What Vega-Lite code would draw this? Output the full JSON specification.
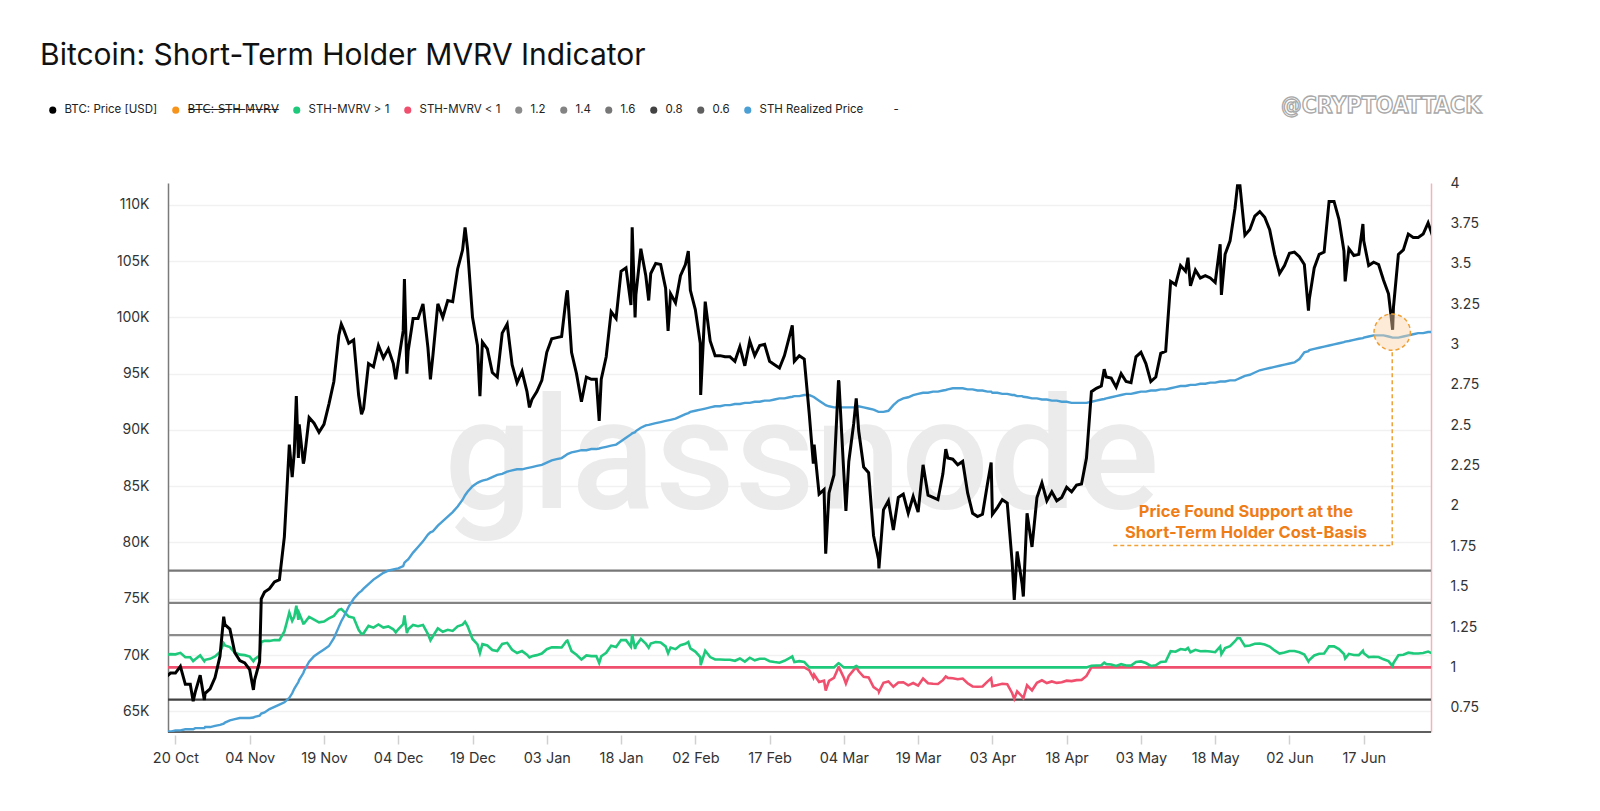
{
  "$schema": "https://vega.github.io/schema/vega-lite/v6.json",
  "width": 1263,
  "height": 549,
  "autosize": {"type": "none"},
  "padding": {"left": 168, "top": 183, "right": 169, "bottom": 79},
  "background": "#ffffff",
  "title": {
    "text": "Bitcoin: Short-Term Holder MVRV Indicator",
    "anchor": "start",
    "frame": "group",
    "font": "Inter",
    "fontSize": 30,
    "fontWeight": "normal",
    "color": "#111111",
    "dx": -128,
    "offset": 24
  },
  "config": {
    "font": "Inter",
    "view": {"stroke": null},
    "axis": {"labelFont": "Inter", "labelColor": "#333333", "labelFontSize": 14}
  },
  "datasets": {
    "btc": [
      {"date":"2024-10-18","price":68.0,"realized":63.2,"mvrv":1.076},
      {"date":"2024-10-19","price":68.4,"realized":63.2,"mvrv":1.082},
      {"date":"2024-10-20","price":68.4,"realized":63.3,"mvrv":1.081},
      {"date":"2024-10-21","price":69.0,"realized":63.3,"mvrv":1.090},
      {"date":"2024-10-22","price":67.4,"realized":63.4,"mvrv":1.063},
      {"date":"2024-10-23","price":67.4,"realized":63.4,"mvrv":1.063},
      {"date":"2024-10-23T14:00Z","price":65.9,"realized":63.4,"mvrv":1.039},
      {"date":"2024-10-24","price":66.7,"realized":63.5,"mvrv":1.050},
      {"date":"2024-10-25","price":68.2,"realized":63.5,"mvrv":1.074},
      {"date":"2024-10-25T20:00Z","price":66.0,"realized":63.5,"mvrv":1.039},
      {"date":"2024-10-26","price":66.6,"realized":63.6,"mvrv":1.047},
      {"date":"2024-10-27","price":67.0,"realized":63.6,"mvrv":1.053},
      {"date":"2024-10-28","price":68.0,"realized":63.7,"mvrv":1.068},
      {"date":"2024-10-29","price":69.9,"realized":63.8,"mvrv":1.096},
      {"date":"2024-10-29T18:00Z","price":73.4,"realized":63.9,"mvrv":1.149},
      {"date":"2024-10-30","price":72.7,"realized":64.0,"mvrv":1.136},
      {"date":"2024-10-31","price":72.3,"realized":64.2,"mvrv":1.126},
      {"date":"2024-11-01","price":70.2,"realized":64.3,"mvrv":1.092},
      {"date":"2024-11-02","price":69.5,"realized":64.4,"mvrv":1.079},
      {"date":"2024-11-03","price":69.3,"realized":64.4,"mvrv":1.076},
      {"date":"2024-11-04","price":68.7,"realized":64.4,"mvrv":1.067},
      {"date":"2024-11-04T18:00Z","price":66.9,"realized":64.45,"mvrv":1.038},
      {"date":"2024-11-05","price":67.8,"realized":64.5,"mvrv":1.051},
      {"date":"2024-11-06","price":69.4,"realized":64.6,"mvrv":1.074},
      {"date":"2024-11-06T08:00Z","price":75.0,"realized":64.8,"mvrv":1.157},
      {"date":"2024-11-07","price":75.6,"realized":64.9,"mvrv":1.165},
      {"date":"2024-11-08","price":75.9,"realized":65.2,"mvrv":1.164},
      {"date":"2024-11-09","price":76.5,"realized":65.4,"mvrv":1.170},
      {"date":"2024-11-10","price":76.7,"realized":65.6,"mvrv":1.169},
      {"date":"2024-11-11","price":80.5,"realized":65.8,"mvrv":1.223},
      {"date":"2024-11-11T12:00Z","price":84.5,"realized":66.0,"mvrv":1.280},
      {"date":"2024-11-12","price":88.7,"realized":66.2,"mvrv":1.340},
      {"date":"2024-11-12T14:00Z","price":85.8,"realized":66.6,"mvrv":1.288},
      {"date":"2024-11-13","price":88.0,"realized":67.0,"mvrv":1.313},
      {"date":"2024-11-13T10:00Z","price":93.0,"realized":67.3,"mvrv":1.382},
      {"date":"2024-11-13T20:00Z","price":87.5,"realized":67.6,"mvrv":1.294},
      {"date":"2024-11-14","price":90.5,"realized":67.8,"mvrv":1.335},
      {"date":"2024-11-14T20:00Z","price":87.0,"realized":68.4,"mvrv":1.272},
      {"date":"2024-11-15","price":87.3,"realized":68.6,"mvrv":1.273},
      {"date":"2024-11-16","price":91.1,"realized":69.4,"mvrv":1.313},
      {"date":"2024-11-17","price":90.6,"realized":69.9,"mvrv":1.296},
      {"date":"2024-11-18","price":89.8,"realized":70.2,"mvrv":1.279},
      {"date":"2024-11-19","price":90.5,"realized":70.5,"mvrv":1.284},
      {"date":"2024-11-20","price":92.3,"realized":70.8,"mvrv":1.304},
      {"date":"2024-11-21","price":94.3,"realized":71.5,"mvrv":1.319},
      {"date":"2024-11-22","price":98.4,"realized":72.5,"mvrv":1.357},
      {"date":"2024-11-22T12:00Z","price":99.4,"realized":73.0,"mvrv":1.362},
      {"date":"2024-11-23","price":98.9,"realized":73.4,"mvrv":1.347},
      {"date":"2024-11-24","price":97.7,"realized":74.3,"mvrv":1.315},
      {"date":"2024-11-25","price":98.0,"realized":75.0,"mvrv":1.307},
      {"date":"2024-11-26","price":93.1,"realized":75.5,"mvrv":1.233},
      {"date":"2024-11-26T14:00Z","price":91.4,"realized":75.7,"mvrv":1.207},
      {"date":"2024-11-27","price":91.9,"realized":75.9,"mvrv":1.211},
      {"date":"2024-11-28","price":95.9,"realized":76.3,"mvrv":1.257},
      {"date":"2024-11-29","price":95.6,"realized":76.7,"mvrv":1.246},
      {"date":"2024-11-30","price":97.5,"realized":77.0,"mvrv":1.266},
      {"date":"2024-12-01","price":96.4,"realized":77.3,"mvrv":1.247},
      {"date":"2024-12-02","price":97.2,"realized":77.5,"mvrv":1.254},
      {"date":"2024-12-03","price":95.9,"realized":77.6,"mvrv":1.236},
      {"date":"2024-12-03T12:00Z","price":94.5,"realized":77.65,"mvrv":1.217},
      {"date":"2024-12-04","price":96.0,"realized":77.7,"mvrv":1.236},
      {"date":"2024-12-05","price":98.8,"realized":77.9,"mvrv":1.268},
      {"date":"2024-12-05T06:00Z","price":103.4,"realized":78.2,"mvrv":1.322},
      {"date":"2024-12-05T18:00Z","price":95.0,"realized":78.4,"mvrv":1.212},
      {"date":"2024-12-06","price":97.0,"realized":78.5,"mvrv":1.236},
      {"date":"2024-12-07","price":99.9,"realized":79.1,"mvrv":1.263},
      {"date":"2024-12-08","price":99.9,"realized":79.6,"mvrv":1.255},
      {"date":"2024-12-09","price":101.2,"realized":80.1,"mvrv":1.263},
      {"date":"2024-12-10","price":97.3,"realized":80.7,"mvrv":1.206},
      {"date":"2024-12-10T12:00Z","price":94.5,"realized":80.9,"mvrv":1.168},
      {"date":"2024-12-11","price":96.6,"realized":81.0,"mvrv":1.193},
      {"date":"2024-12-12","price":101.2,"realized":81.5,"mvrv":1.242},
      {"date":"2024-12-13","price":100.0,"realized":81.9,"mvrv":1.221},
      {"date":"2024-12-14","price":101.5,"realized":82.3,"mvrv":1.233},
      {"date":"2024-12-15","price":101.4,"realized":82.7,"mvrv":1.226},
      {"date":"2024-12-16","price":104.3,"realized":83.2,"mvrv":1.254},
      {"date":"2024-12-17","price":106.0,"realized":83.8,"mvrv":1.265},
      {"date":"2024-12-17T12:00Z","price":108.0,"realized":84.2,"mvrv":1.283},
      {"date":"2024-12-18","price":106.1,"realized":84.5,"mvrv":1.256},
      {"date":"2024-12-19","price":100.0,"realized":85.0,"mvrv":1.176},
      {"date":"2024-12-20","price":97.5,"realized":85.3,"mvrv":1.143},
      {"date":"2024-12-20T12:00Z","price":93.0,"realized":85.4,"mvrv":1.089},
      {"date":"2024-12-21","price":97.8,"realized":85.5,"mvrv":1.144},
      {"date":"2024-12-22","price":97.2,"realized":85.6,"mvrv":1.136},
      {"date":"2024-12-23","price":95.1,"realized":85.8,"mvrv":1.108},
      {"date":"2024-12-24","price":94.7,"realized":86.0,"mvrv":1.101},
      {"date":"2024-12-25","price":98.6,"realized":86.1,"mvrv":1.145},
      {"date":"2024-12-26","price":99.4,"realized":86.3,"mvrv":1.152},
      {"date":"2024-12-27","price":95.8,"realized":86.4,"mvrv":1.109},
      {"date":"2024-12-28","price":94.2,"realized":86.5,"mvrv":1.089},
      {"date":"2024-12-29","price":95.2,"realized":86.5,"mvrv":1.101},
      {"date":"2024-12-30","price":93.4,"realized":86.6,"mvrv":1.079},
      {"date":"2024-12-30T12:00Z","price":92.0,"realized":86.65,"mvrv":1.062},
      {"date":"2024-12-31","price":92.7,"realized":86.7,"mvrv":1.069},
      {"date":"2025-01-01","price":93.4,"realized":86.8,"mvrv":1.076},
      {"date":"2025-01-02","price":94.4,"realized":86.9,"mvrv":1.086},
      {"date":"2025-01-03","price":96.9,"realized":87.1,"mvrv":1.113},
      {"date":"2025-01-04","price":98.1,"realized":87.3,"mvrv":1.124},
      {"date":"2025-01-05","price":98.2,"realized":87.4,"mvrv":1.124},
      {"date":"2025-01-06","price":98.3,"realized":87.5,"mvrv":1.123},
      {"date":"2025-01-07","price":102.1,"realized":87.8,"mvrv":1.163},
      {"date":"2025-01-07T04:00Z","price":102.4,"realized":87.85,"mvrv":1.166},
      {"date":"2025-01-08","price":96.9,"realized":88.0,"mvrv":1.101},
      {"date":"2025-01-09","price":95.0,"realized":88.1,"mvrv":1.078},
      {"date":"2025-01-10","price":92.5,"realized":88.2,"mvrv":1.049},
      {"date":"2025-01-11","price":94.7,"realized":88.2,"mvrv":1.074},
      {"date":"2025-01-12","price":94.5,"realized":88.3,"mvrv":1.070},
      {"date":"2025-01-13","price":94.5,"realized":88.3,"mvrv":1.070},
      {"date":"2025-01-13T14:00Z","price":90.8,"realized":88.35,"mvrv":1.028},
      {"date":"2025-01-14","price":94.5,"realized":88.4,"mvrv":1.069},
      {"date":"2025-01-15","price":96.5,"realized":88.5,"mvrv":1.090},
      {"date":"2025-01-16","price":100.5,"realized":88.6,"mvrv":1.134},
      {"date":"2025-01-17","price":99.9,"realized":88.7,"mvrv":1.126},
      {"date":"2025-01-18","price":104.1,"realized":89.0,"mvrv":1.170},
      {"date":"2025-01-19","price":104.4,"realized":89.3,"mvrv":1.169},
      {"date":"2025-01-20","price":101.1,"realized":89.6,"mvrv":1.128},
      {"date":"2025-01-20T06:00Z","price":108.0,"realized":89.7,"mvrv":1.204},
      {"date":"2025-01-20T20:00Z","price":100.0,"realized":89.8,"mvrv":1.114},
      {"date":"2025-01-21","price":102.0,"realized":89.9,"mvrv":1.135},
      {"date":"2025-01-22","price":106.1,"realized":90.2,"mvrv":1.176},
      {"date":"2025-01-23","price":103.7,"realized":90.4,"mvrv":1.147},
      {"date":"2025-01-23T14:00Z","price":101.5,"realized":90.45,"mvrv":1.122},
      {"date":"2025-01-24","price":103.9,"realized":90.5,"mvrv":1.148},
      {"date":"2025-01-25","price":104.8,"realized":90.6,"mvrv":1.157},
      {"date":"2025-01-26","price":104.7,"realized":90.7,"mvrv":1.154},
      {"date":"2025-01-27","price":102.6,"realized":90.8,"mvrv":1.130},
      {"date":"2025-01-27T12:00Z","price":98.8,"realized":90.85,"mvrv":1.088},
      {"date":"2025-01-28","price":102.1,"realized":90.9,"mvrv":1.123},
      {"date":"2025-01-29","price":101.3,"realized":91.0,"mvrv":1.113},
      {"date":"2025-01-30","price":103.7,"realized":91.2,"mvrv":1.137},
      {"date":"2025-01-31","price":104.7,"realized":91.4,"mvrv":1.146},
      {"date":"2025-01-31T14:00Z","price":105.9,"realized":91.5,"mvrv":1.157},
      {"date":"2025-02-01","price":102.4,"realized":91.6,"mvrv":1.118},
      {"date":"2025-02-02","price":100.7,"realized":91.7,"mvrv":1.098},
      {"date":"2025-02-03","price":97.7,"realized":91.8,"mvrv":1.064},
      {"date":"2025-02-03T02:00Z","price":93.1,"realized":91.8,"mvrv":1.014},
      {"date":"2025-02-04","price":101.4,"realized":91.9,"mvrv":1.103},
      {"date":"2025-02-05","price":97.9,"realized":92.0,"mvrv":1.064},
      {"date":"2025-02-06","price":96.6,"realized":92.1,"mvrv":1.049},
      {"date":"2025-02-07","price":96.6,"realized":92.1,"mvrv":1.049},
      {"date":"2025-02-08","price":96.5,"realized":92.2,"mvrv":1.047},
      {"date":"2025-02-09","price":96.5,"realized":92.2,"mvrv":1.047},
      {"date":"2025-02-10","price":96.1,"realized":92.3,"mvrv":1.041},
      {"date":"2025-02-11","price":97.4,"realized":92.3,"mvrv":1.055},
      {"date":"2025-02-12","price":95.7,"realized":92.4,"mvrv":1.036},
      {"date":"2025-02-13","price":97.9,"realized":92.4,"mvrv":1.060},
      {"date":"2025-02-14","price":96.6,"realized":92.5,"mvrv":1.044},
      {"date":"2025-02-15","price":97.5,"realized":92.5,"mvrv":1.054},
      {"date":"2025-02-16","price":97.6,"realized":92.6,"mvrv":1.054},
      {"date":"2025-02-17","price":96.1,"realized":92.6,"mvrv":1.038},
      {"date":"2025-02-18","price":95.8,"realized":92.7,"mvrv":1.033},
      {"date":"2025-02-19","price":95.5,"realized":92.8,"mvrv":1.029},
      {"date":"2025-02-20","price":96.6,"realized":92.8,"mvrv":1.041},
      {"date":"2025-02-21","price":98.3,"realized":92.9,"mvrv":1.058},
      {"date":"2025-02-21T14:00Z","price":99.3,"realized":92.95,"mvrv":1.068},
      {"date":"2025-02-22","price":96.1,"realized":93.0,"mvrv":1.033},
      {"date":"2025-02-23","price":96.6,"realized":93.0,"mvrv":1.039},
      {"date":"2025-02-24","price":96.3,"realized":93.1,"mvrv":1.034},
      {"date":"2025-02-25","price":91.5,"realized":93.1,"mvrv":0.983},
      {"date":"2025-02-25T20:00Z","price":87.0,"realized":92.95,"mvrv":0.936},
      {"date":"2025-02-26","price":88.7,"realized":92.9,"mvrv":0.955},
      {"date":"2025-02-27","price":84.3,"realized":92.6,"mvrv":0.910},
      {"date":"2025-02-28","price":84.7,"realized":92.3,"mvrv":0.918},
      {"date":"2025-02-28T08:00Z","price":79.0,"realized":92.2,"mvrv":0.857},
      {"date":"2025-03-01","price":84.4,"realized":92.1,"mvrv":0.916},
      {"date":"2025-03-02","price":86.0,"realized":92.0,"mvrv":0.935},
      {"date":"2025-03-02T22:00Z","price":94.4,"realized":92.0,"mvrv":1.026},
      {"date":"2025-03-03","price":94.3,"realized":92.0,"mvrv":1.025},
      {"date":"2025-03-04","price":86.1,"realized":92.0,"mvrv":0.936},
      {"date":"2025-03-04T10:00Z","price":82.8,"realized":92.0,"mvrv":0.900},
      {"date":"2025-03-05","price":87.2,"realized":92.0,"mvrv":0.948},
      {"date":"2025-03-06","price":90.6,"realized":92.0,"mvrv":0.985},
      {"date":"2025-03-06T12:00Z","price":92.8,"realized":92.0,"mvrv":1.009},
      {"date":"2025-03-07","price":89.9,"realized":92.1,"mvrv":0.976},
      {"date":"2025-03-08","price":86.7,"realized":92.0,"mvrv":0.942},
      {"date":"2025-03-09","price":86.2,"realized":91.9,"mvrv":0.938},
      {"date":"2025-03-10","price":80.6,"realized":91.8,"mvrv":0.878},
      {"date":"2025-03-11","price":78.5,"realized":91.6,"mvrv":0.857},
      {"date":"2025-03-11T02:00Z","price":77.7,"realized":91.6,"mvrv":0.848},
      {"date":"2025-03-12","price":82.9,"realized":91.6,"mvrv":0.905},
      {"date":"2025-03-13","price":83.7,"realized":91.7,"mvrv":0.913},
      {"date":"2025-03-14","price":81.1,"realized":92.2,"mvrv":0.880},
      {"date":"2025-03-15","price":84.0,"realized":92.6,"mvrv":0.907},
      {"date":"2025-03-16","price":84.3,"realized":92.8,"mvrv":0.908},
      {"date":"2025-03-17","price":82.6,"realized":92.9,"mvrv":0.889},
      {"date":"2025-03-18","price":84.1,"realized":93.1,"mvrv":0.903},
      {"date":"2025-03-19","price":82.7,"realized":93.2,"mvrv":0.887},
      {"date":"2025-03-20","price":86.9,"realized":93.3,"mvrv":0.931},
      {"date":"2025-03-21","price":84.2,"realized":93.3,"mvrv":0.902},
      {"date":"2025-03-22","price":84.0,"realized":93.4,"mvrv":0.899},
      {"date":"2025-03-23","price":83.8,"realized":93.4,"mvrv":0.897},
      {"date":"2025-03-24","price":86.1,"realized":93.5,"mvrv":0.921},
      {"date":"2025-03-24T14:00Z","price":88.3,"realized":93.55,"mvrv":0.944},
      {"date":"2025-03-25","price":87.5,"realized":93.6,"mvrv":0.935},
      {"date":"2025-03-26","price":87.4,"realized":93.7,"mvrv":0.933},
      {"date":"2025-03-27","price":86.9,"realized":93.7,"mvrv":0.927},
      {"date":"2025-03-28","price":87.2,"realized":93.7,"mvrv":0.931},
      {"date":"2025-03-29","price":84.4,"realized":93.6,"mvrv":0.902},
      {"date":"2025-03-30","price":82.6,"realized":93.6,"mvrv":0.882},
      {"date":"2025-03-31","price":82.3,"realized":93.5,"mvrv":0.880},
      {"date":"2025-04-01","price":82.5,"realized":93.5,"mvrv":0.882},
      {"date":"2025-04-02","price":85.2,"realized":93.4,"mvrv":0.912},
      {"date":"2025-04-02T18:00Z","price":87.1,"realized":93.4,"mvrv":0.933},
      {"date":"2025-04-03","price":82.5,"realized":93.3,"mvrv":0.884},
      {"date":"2025-04-04","price":83.1,"realized":93.3,"mvrv":0.891},
      {"date":"2025-04-05","price":83.8,"realized":93.2,"mvrv":0.899},
      {"date":"2025-04-06","price":83.5,"realized":93.2,"mvrv":0.896},
      {"date":"2025-04-07","price":78.2,"realized":93.1,"mvrv":0.840},
      {"date":"2025-04-07T10:00Z","price":74.9,"realized":93.1,"mvrv":0.805},
      {"date":"2025-04-08","price":79.2,"realized":93.0,"mvrv":0.852},
      {"date":"2025-04-09","price":76.3,"realized":93.0,"mvrv":0.820},
      {"date":"2025-04-09T06:00Z","price":75.2,"realized":92.95,"mvrv":0.809},
      {"date":"2025-04-10","price":82.6,"realized":92.9,"mvrv":0.889},
      {"date":"2025-04-11","price":79.6,"realized":92.8,"mvrv":0.858},
      {"date":"2025-04-12","price":84.0,"realized":92.8,"mvrv":0.905},
      {"date":"2025-04-13","price":85.3,"realized":92.7,"mvrv":0.920},
      {"date":"2025-04-14","price":83.7,"realized":92.7,"mvrv":0.903},
      {"date":"2025-04-15","price":84.5,"realized":92.6,"mvrv":0.913},
      {"date":"2025-04-16","price":83.7,"realized":92.6,"mvrv":0.904},
      {"date":"2025-04-17","price":84.0,"realized":92.5,"mvrv":0.908},
      {"date":"2025-04-18","price":84.9,"realized":92.5,"mvrv":0.918},
      {"date":"2025-04-19","price":84.5,"realized":92.4,"mvrv":0.915},
      {"date":"2025-04-20","price":85.1,"realized":92.4,"mvrv":0.921},
      {"date":"2025-04-21","price":85.2,"realized":92.4,"mvrv":0.922},
      {"date":"2025-04-22","price":87.5,"realized":92.4,"mvrv":0.947},
      {"date":"2025-04-23","price":93.4,"realized":92.5,"mvrv":1.010},
      {"date":"2025-04-24","price":93.7,"realized":92.6,"mvrv":1.012},
      {"date":"2025-04-25","price":93.9,"realized":92.7,"mvrv":1.013},
      {"date":"2025-04-25T14:00Z","price":95.4,"realized":92.75,"mvrv":1.029},
      {"date":"2025-04-26","price":94.7,"realized":92.8,"mvrv":1.020},
      {"date":"2025-04-27","price":94.6,"realized":92.9,"mvrv":1.018},
      {"date":"2025-04-28","price":93.8,"realized":93.0,"mvrv":1.009},
      {"date":"2025-04-29","price":95.0,"realized":93.1,"mvrv":1.020},
      {"date":"2025-04-30","price":94.3,"realized":93.2,"mvrv":1.012},
      {"date":"2025-05-01","price":94.2,"realized":93.2,"mvrv":1.011},
      {"date":"2025-05-02","price":96.5,"realized":93.3,"mvrv":1.034},
      {"date":"2025-05-03","price":96.9,"realized":93.4,"mvrv":1.037},
      {"date":"2025-05-04","price":95.9,"realized":93.4,"mvrv":1.027},
      {"date":"2025-05-05","price":94.3,"realized":93.5,"mvrv":1.009},
      {"date":"2025-05-06","price":94.7,"realized":93.5,"mvrv":1.013},
      {"date":"2025-05-07","price":96.8,"realized":93.6,"mvrv":1.034},
      {"date":"2025-05-08","price":97.0,"realized":93.6,"mvrv":1.036},
      {"date":"2025-05-09","price":103.2,"realized":93.7,"mvrv":1.101},
      {"date":"2025-05-10","price":102.9,"realized":93.8,"mvrv":1.097},
      {"date":"2025-05-11","price":104.6,"realized":93.9,"mvrv":1.114},
      {"date":"2025-05-12","price":104.1,"realized":93.9,"mvrv":1.109},
      {"date":"2025-05-12T12:00Z","price":105.3,"realized":93.95,"mvrv":1.121},
      {"date":"2025-05-13","price":102.8,"realized":94.0,"mvrv":1.094},
      {"date":"2025-05-14","price":104.2,"realized":94.0,"mvrv":1.109},
      {"date":"2025-05-15","price":103.5,"realized":94.1,"mvrv":1.100},
      {"date":"2025-05-16","price":103.7,"realized":94.1,"mvrv":1.102},
      {"date":"2025-05-17","price":103.5,"realized":94.2,"mvrv":1.099},
      {"date":"2025-05-18","price":103.1,"realized":94.2,"mvrv":1.094},
      {"date":"2025-05-19","price":106.5,"realized":94.3,"mvrv":1.129},
      {"date":"2025-05-19T06:00Z","price":102.0,"realized":94.3,"mvrv":1.082},
      {"date":"2025-05-20","price":105.6,"realized":94.3,"mvrv":1.120},
      {"date":"2025-05-21","price":106.8,"realized":94.4,"mvrv":1.131},
      {"date":"2025-05-22","price":109.7,"realized":94.4,"mvrv":1.162},
      {"date":"2025-05-22T12:00Z","price":111.7,"realized":94.5,"mvrv":1.182},
      {"date":"2025-05-23","price":111.7,"realized":94.6,"mvrv":1.181},
      {"date":"2025-05-24","price":107.3,"realized":94.8,"mvrv":1.132},
      {"date":"2025-05-25","price":107.8,"realized":94.9,"mvrv":1.136},
      {"date":"2025-05-26","price":109.0,"realized":95.1,"mvrv":1.146},
      {"date":"2025-05-27","price":109.4,"realized":95.3,"mvrv":1.148},
      {"date":"2025-05-28","price":108.9,"realized":95.4,"mvrv":1.142},
      {"date":"2025-05-29","price":107.8,"realized":95.5,"mvrv":1.129},
      {"date":"2025-05-30","price":105.6,"realized":95.6,"mvrv":1.105},
      {"date":"2025-05-31","price":103.9,"realized":95.7,"mvrv":1.086},
      {"date":"2025-06-01","price":104.6,"realized":95.8,"mvrv":1.092},
      {"date":"2025-06-02","price":105.7,"realized":95.9,"mvrv":1.102},
      {"date":"2025-06-03","price":105.8,"realized":96.0,"mvrv":1.102},
      {"date":"2025-06-04","price":105.4,"realized":96.3,"mvrv":1.094},
      {"date":"2025-06-05","price":104.7,"realized":96.9,"mvrv":1.080},
      {"date":"2025-06-05T20:00Z","price":100.6,"realized":97.0,"mvrv":1.037},
      {"date":"2025-06-06","price":101.6,"realized":97.1,"mvrv":1.046},
      {"date":"2025-06-07","price":104.4,"realized":97.2,"mvrv":1.074},
      {"date":"2025-06-08","price":105.6,"realized":97.3,"mvrv":1.085},
      {"date":"2025-06-09","price":105.8,"realized":97.4,"mvrv":1.086},
      {"date":"2025-06-10","price":110.3,"realized":97.5,"mvrv":1.131},
      {"date":"2025-06-11","price":110.3,"realized":97.6,"mvrv":1.130},
      {"date":"2025-06-12","price":108.7,"realized":97.7,"mvrv":1.113},
      {"date":"2025-06-13","price":105.9,"realized":97.8,"mvrv":1.083},
      {"date":"2025-06-13T06:00Z","price":103.2,"realized":97.85,"mvrv":1.055},
      {"date":"2025-06-14","price":106.1,"realized":97.9,"mvrv":1.084},
      {"date":"2025-06-15","price":105.5,"realized":98.0,"mvrv":1.077},
      {"date":"2025-06-16","price":105.6,"realized":98.1,"mvrv":1.076},
      {"date":"2025-06-16T20:00Z","price":108.3,"realized":98.15,"mvrv":1.103},
      {"date":"2025-06-17","price":106.8,"realized":98.2,"mvrv":1.088},
      {"date":"2025-06-18","price":104.6,"realized":98.3,"mvrv":1.064},
      {"date":"2025-06-19","price":104.9,"realized":98.4,"mvrv":1.066},
      {"date":"2025-06-20","price":104.7,"realized":98.4,"mvrv":1.064},
      {"date":"2025-06-21","price":103.3,"realized":98.4,"mvrv":1.050},
      {"date":"2025-06-22","price":102.1,"realized":98.3,"mvrv":1.039},
      {"date":"2025-06-22T20:00Z","price":98.9,"realized":98.2,"mvrv":1.007},
      {"date":"2025-06-23","price":100.9,"realized":98.2,"mvrv":1.027},
      {"date":"2025-06-24","price":105.6,"realized":98.2,"mvrv":1.075},
      {"date":"2025-06-25","price":106.0,"realized":98.3,"mvrv":1.078},
      {"date":"2025-06-26","price":107.4,"realized":98.4,"mvrv":1.091},
      {"date":"2025-06-27","price":107.1,"realized":98.5,"mvrv":1.087},
      {"date":"2025-06-28","price":107.1,"realized":98.6,"mvrv":1.086},
      {"date":"2025-06-29","price":107.4,"realized":98.6,"mvrv":1.089},
      {"date":"2025-06-30","price":108.4,"realized":98.7,"mvrv":1.098},
      {"date":"2025-07-01","price":107.1,"realized":98.7,"mvrv":1.085}
    ],
    "levels": [
      {"level": "1.2", "value": 1.2},
      {"level": "1.4", "value": 1.4},
      {"level": "1.6", "value": 1.6},
      {"level": "0.8", "value": 0.8},
      {"level": "0.6", "value": 0.6}
    ]
  },
  "resolve": {"scale": {"y": "independent"}},
  "layer": [
    {
      "data": {"values": [{"label": "glassnode"}]},
      "mark": {"type": "text", "font": "Roboto", "fontWeight": 500, "fontSize": 155, "color": "#ebebeb", "align": "center", "baseline": "alphabetic"},
      "encoding": {
        "text": {"field": "label"},
        "x": {
          "datum": {"year": 2025, "month": 2, "date": 23, "hours": 12, "utc": true},
          "type": "temporal",
          "scale": {"type": "utc", "domain": [{"year": 2024, "month": 10, "date": 18, "hours": 12, "utc": true}, {"year": 2025, "month": 6, "date": 30, "hours": 14, "utc": true}]}
        },
        "y": {
          "datum": 83.03,
          "type": "quantitative",
          "scale": {"domain": [63.16, 111.94], "nice": false, "zero": false},
          "axis": {
            "title": null,
            "orient": "left",
            "values": [65, 70, 75, 80, 85, 90, 95, 100, 105, 110],
            "labelExpr": "datum.value + 'K'",
            "grid": true,
            "gridColor": "#f1f1f1",
            "gridWidth": 1.5,
            "domain": true,
            "domainColor": "#7a7a7a",
            "domainWidth": 1.5,
            "ticks": false,
            "tickSize": 0,
            "labelPadding": 19,
            "labelFontSize": 14,
            "labelColor": "#333333"
          }
        }
      }
    },
    {
      "data": {"name": "levels"},
      "mark": {"type": "rule", "strokeWidth": 2.2},
      "encoding": {
        "y": {
          "field": "value",
          "type": "quantitative",
          "scale": {"domain": [0.6, 4], "nice": false, "zero": false},
          "axis": {
            "title": null,
            "orient": "right",
            "values": [0.75, 1, 1.25, 1.5, 1.75, 2, 2.25, 2.5, 2.75, 3, 3.25, 3.5, 3.75, 4],
            "labelExpr": "'' + datum.value",
            "grid": false,
            "domain": true,
            "domainColor": "#f2b3bb",
            "domainWidth": 1.5,
            "ticks": false,
            "tickSize": 0,
            "labelPadding": 19,
            "labelFontSize": 14,
            "labelColor": "#333333"
          }
        },
        "color": {
          "field": "level",
          "type": "nominal",
          "scale": {
            "domain": ["BTC: Price [USD]", "B\u0336T\u0336C\u0336:\u0336 \u0336S\u0336T\u0336H\u0336-\u0336M\u0336V\u0336R\u0336V\u0336", "STH-MVRV > 1", "STH-MVRV < 1", "1.2", "1.4", "1.6", "0.8", "0.6", "STH Realized Price", "-"],
            "range": ["#000000", "#f7931a", "#1ec97b", "#f0506e", "#8c8c8c", "#838383", "#777777", "#424242", "#5f5f5f", "#4a9fd4", "#ffffff"]
          },
          "legend": {
            "title": null,
            "orient": "none",
            "direction": "horizontal",
            "columns": 11,
            "legendX": -121,
            "legendY": -79,
            "symbolType": "circle",
            "symbolSize": 50,
            "symbolStrokeWidth": 0,
            "labelFont": "Inter, DejaVu Sans",
            "labelFontSize": 11.5,
            "labelColor": "#222222",
            "labelOffset": 6,
            "columnPadding": 12,
            "encode": {
              "symbols": {
                "update": {
                  "fill": {"scale": "color", "field": "value"},
                  "stroke": {"value": "transparent"},
                  "opacity": {"value": 1}
                }
              }
            }
          }
        }
      }
    },
    {
      "data": {"name": "btc"},
      "mark": {"type": "line", "strokeWidth": 2.6, "clip": true},
      "encoding": {
        "x": {
          "field": "date",
          "type": "temporal",
          "scale": {"type": "utc", "domain": [{"year": 2024, "month": 10, "date": 18, "hours": 12, "utc": true}, {"year": 2025, "month": 6, "date": 30, "hours": 14, "utc": true}]},
          "axis": {
            "title": null,
            "values": [
              {"year": 2024, "month": 10, "date": 20, "utc": true},
              {"year": 2024, "month": 11, "date": 4, "utc": true},
              {"year": 2024, "month": 11, "date": 19, "utc": true},
              {"year": 2024, "month": 12, "date": 4, "utc": true},
              {"year": 2024, "month": 12, "date": 19, "utc": true},
              {"year": 2025, "month": 1, "date": 3, "utc": true},
              {"year": 2025, "month": 1, "date": 18, "utc": true},
              {"year": 2025, "month": 2, "date": 2, "utc": true},
              {"year": 2025, "month": 2, "date": 17, "utc": true},
              {"year": 2025, "month": 3, "date": 4, "utc": true},
              {"year": 2025, "month": 3, "date": 19, "utc": true},
              {"year": 2025, "month": 4, "date": 3, "utc": true},
              {"year": 2025, "month": 4, "date": 18, "utc": true},
              {"year": 2025, "month": 5, "date": 3, "utc": true},
              {"year": 2025, "month": 5, "date": 18, "utc": true},
              {"year": 2025, "month": 6, "date": 2, "utc": true},
              {"year": 2025, "month": 6, "date": 17, "utc": true}
            ],
            "labelExpr": "utcFormat(datum.value, '%d %b')",
            "domain": false,
            "grid": false,
            "offset": 3,
            "tickSize": 9,
            "tickColor": "#d0d0d0",
            "tickWidth": 1.5,
            "labelPadding": 7,
            "labelFontSize": 14.5,
            "labelColor": "#333333"
          }
        },
        "y": {"field": "mvrv", "type": "quantitative", "scale": {"domain": [0.6, 1], "range": [549, 484.4], "clamp": true, "nice": false, "zero": false}, "axis": null},
        "color": {"datum": "STH-MVRV < 1", "legend": null}
      }
    },
    {
      "data": {"name": "btc"},
      "mark": {"type": "line", "strokeWidth": 2.6, "clip": true},
      "encoding": {
        "x": {"field": "date", "type": "temporal", "scale": {"type": "utc", "domain": [{"year": 2024, "month": 10, "date": 18, "hours": 12, "utc": true}, {"year": 2025, "month": 6, "date": 30, "hours": 14, "utc": true}]}},
        "y": {"field": "mvrv", "type": "quantitative", "scale": {"domain": [1, 4], "range": [484.4, 0], "clamp": true, "nice": false, "zero": false}, "axis": null},
        "color": {"datum": "STH-MVRV > 1", "legend": null}
      }
    },
    {
      "layer": [
        {
          "data": {"name": "btc"},
          "mark": {"type": "line", "strokeWidth": 2.4, "clip": true},
          "encoding": {
            "x": {"field": "date", "type": "temporal", "scale": {"type": "utc", "domain": [{"year": 2024, "month": 10, "date": 18, "hours": 12, "utc": true}, {"year": 2025, "month": 6, "date": 30, "hours": 14, "utc": true}]}},
            "y": {"field": "realized", "type": "quantitative", "scale": {"domain": [63.16, 111.94], "nice": false, "zero": false}, "axis": null},
            "color": {"datum": "STH Realized Price", "legend": null}
          }
        },
        {
          "data": {"name": "btc"},
          "mark": {"type": "line", "strokeWidth": 3, "strokeJoin": "miter", "clip": true},
          "encoding": {
            "x": {"field": "date", "type": "temporal", "scale": {"type": "utc", "domain": [{"year": 2024, "month": 10, "date": 18, "hours": 12, "utc": true}, {"year": 2025, "month": 6, "date": 30, "hours": 14, "utc": true}]}},
            "y": {"field": "price", "type": "quantitative", "scale": {"domain": [63.16, 111.94], "nice": false, "zero": false}, "axis": null},
            "color": {"datum": "BTC: Price [USD]", "legend": null}
          }
        },
        {
          "data": {"values": [{"note": "support"}]},
          "mark": {"type": "point", "shape": "circle", "size": 1320, "filled": true, "fill": "#fbd3a8", "fillOpacity": 0.45, "stroke": "#f0a035", "strokeOpacity": 1, "strokeWidth": 1.5, "strokeDash": [4, 3]},
          "encoding": {
            "x": {"datum": {"year": 2025, "month": 6, "date": 22, "hours": 18, "utc": true}, "type": "temporal", "scale": {"type": "utc", "domain": [{"year": 2024, "month": 10, "date": 18, "hours": 12, "utc": true}, {"year": 2025, "month": 6, "date": 30, "hours": 14, "utc": true}]}},
            "y": {"datum": 98.69, "type": "quantitative", "scale": {"domain": [63.16, 111.94], "nice": false, "zero": false}, "axis": null}
          }
        },
        {
          "data": {"values": [{"note": "support"}]},
          "mark": {"type": "rule", "color": "#f0a035", "strokeWidth": 1.5, "strokeDash": [4, 3]},
          "encoding": {
            "x": {"datum": {"year": 2025, "month": 6, "date": 22, "hours": 18, "utc": true}, "type": "temporal", "scale": {"type": "utc", "domain": [{"year": 2024, "month": 10, "date": 18, "hours": 12, "utc": true}, {"year": 2025, "month": 6, "date": 30, "hours": 14, "utc": true}]}},
            "y": {"datum": 96.91, "type": "quantitative", "scale": {"domain": [63.16, 111.94], "nice": false, "zero": false}, "axis": null},
            "y2": {"datum": 79.74}
          }
        },
        {
          "data": {"values": [{"note": "support"}]},
          "mark": {"type": "rule", "color": "#f0a035", "strokeWidth": 1.5, "strokeDash": [4, 3]},
          "encoding": {
            "x": {"datum": {"year": 2025, "month": 4, "date": 27, "hours": 10, "utc": true}, "type": "temporal", "scale": {"type": "utc", "domain": [{"year": 2024, "month": 10, "date": 18, "hours": 12, "utc": true}, {"year": 2025, "month": 6, "date": 30, "hours": 14, "utc": true}]}},
            "x2": {"datum": {"year": 2025, "month": 6, "date": 22, "hours": 18, "utc": true}},
            "y": {"datum": 79.74, "type": "quantitative", "scale": {"domain": [63.16, 111.94], "nice": false, "zero": false}, "axis": null}
          }
        },
        {
          "data": {"values": [{"note": "support"}]},
          "mark": {"type": "text", "text": ["Price Found Support at the", "Short-Term Holder Cost-Basis"], "font": "Inter", "fontSize": 16.5, "fontWeight": "bold", "color": "#ef7d17", "align": "center", "baseline": "middle", "lineHeight": 21},
          "encoding": {
            "x": {"datum": {"year": 2025, "month": 5, "date": 24, "hours": 5, "utc": true}, "type": "temporal", "scale": {"type": "utc", "domain": [{"year": 2024, "month": 10, "date": 18, "hours": 12, "utc": true}, {"year": 2025, "month": 6, "date": 30, "hours": 14, "utc": true}]}},
            "y": {"datum": 82.7, "type": "quantitative", "scale": {"domain": [63.16, 111.94], "nice": false, "zero": false}, "axis": null}
          }
        },
        {
          "data": {"values": [{"label": "@CRYPTOATTACK"}]},
          "mark": {"type": "text", "font": "DejaVu Sans Condensed, Liberation Sans Narrow, sans-serif", "fontSize": 23, "fontWeight": "bold", "fill": "#ffffff", "stroke": "#a8a8a8", "strokeWidth": 1.3, "align": "center", "baseline": "middle"},
          "encoding": {
            "text": {"field": "label"},
            "x": {"datum": {"year": 2025, "month": 6, "date": 20, "hours": 12, "utc": true}, "type": "temporal", "scale": {"type": "utc", "domain": [{"year": 2024, "month": 10, "date": 18, "hours": 12, "utc": true}, {"year": 2025, "month": 6, "date": 30, "hours": 14, "utc": true}]}},
            "y": {"datum": 118.82, "type": "quantitative", "scale": {"domain": [63.16, 111.94], "nice": false, "zero": false}, "axis": null}
          }
        }
      ]
    }
  ]
}
